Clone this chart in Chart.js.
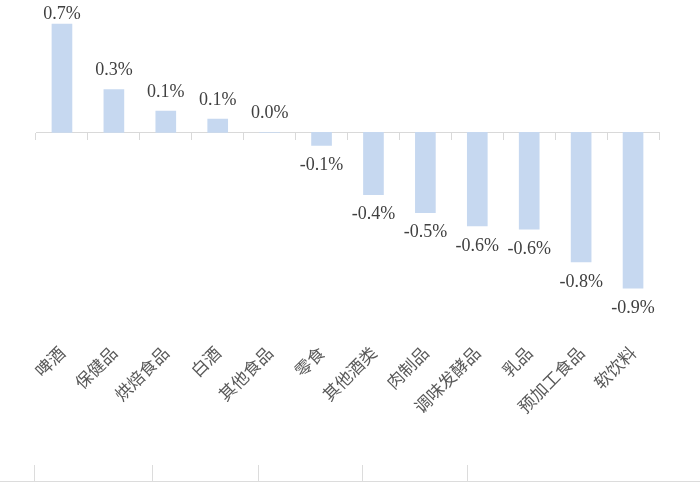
<!DOCTYPE html>
<html>
<head>
<meta charset="utf-8">
<script src="https://cdn.jsdelivr.net/npm/chart.js@4"></script>
<style>
  html, body { margin: 0; padding: 0; background: #fff; }
  #wrap { position: relative; width: 700px; height: 483px; }
  .rule { position: absolute; background: #dcdcdc; }
</style>
</head>
<body>
<div id="wrap">
  <canvas id="chart" width="700" height="483"></canvas>
  <div class="rule" style="left:0;top:481px;width:700px;height:1px"></div>
  <div class="rule" style="left:34px;top:465px;width:1px;height:17px"></div>
  <div class="rule" style="left:152px;top:465px;width:1px;height:17px"></div>
  <div class="rule" style="left:258px;top:465px;width:1px;height:17px"></div>
  <div class="rule" style="left:362px;top:465px;width:1px;height:17px"></div>
  <div class="rule" style="left:467px;top:465px;width:1px;height:17px"></div>
</div>
<script>
const categories = ['啤酒', '保健品', '烘焙食品', '白酒', '其他食品', '零食', '其他酒类', '肉制品', '调味发酵品', '乳品', '预加工食品', '软饮料'];
const values = [0.66, 0.26, 0.13, 0.08, 0.0, -0.08, -0.38, -0.49, -0.57, -0.59, -0.79, -0.95];
const valueLabels = ['0.7%', '0.3%', '0.1%', '0.1%', '0.0%', '-0.1%', '-0.4%', '-0.5%', '-0.6%', '-0.6%', '-0.8%', '-0.9%'];

const barColor = '#c6d8f0';
const lineColor = '#d9d9d9';

// value labels above / below each bar
const valueLabelPlugin = {
  id: 'valueLabels',
  afterDatasetsDraw(chart) {
    const ctx = chart.ctx;
    const meta = chart.getDatasetMeta(0);
    ctx.save();
    ctx.font = '18px "Liberation Serif", serif';
    ctx.fillStyle = '#404040';
    ctx.textAlign = 'center';
    meta.data.forEach((bar, i) => {
      if (values[i] >= 0) {
        ctx.textBaseline = 'bottom';
        ctx.fillText(valueLabels[i], bar.x, Math.max(bar.y - 10, 23));
      } else {
        ctx.textBaseline = 'top';
        ctx.fillText(valueLabels[i], bar.x, bar.y + 11);
      }
    });
    ctx.restore();
  }
};

new Chart(document.getElementById('chart'), {
  type: 'bar',
  data: {
    labels: categories,
    datasets: [{
      data: values,
      backgroundColor: barColor,
      barThickness: 20,
      xAxisID: 'x',
    }]
  },
  options: {
    responsive: false,
    animation: false,
    layout: { padding: { left: 36, right: 41, top: 1, bottom: 0 } },
    plugins: { legend: { display: false }, tooltip: { enabled: false } },
    scales: {
      x: {
        type: 'category',
        position: 'bottom',
        grid: { display: false },
        border: { display: false },
        ticks: {
          minRotation: 45,
          maxRotation: 45,
          autoSkip: false,
          padding: -3,
          color: '#595959',
          font: { family: '"Noto Sans CJK SC", sans-serif', size: 17 }
        },
        afterFit: (scale) => { scale.height = 145.5; }
      },
      x0: {
        type: 'category',
        position: { y: 0 },
        offset: true,
        grid: { offset: true, drawOnChartArea: false, drawTicks: true, tickLength: 7, color: lineColor },
        border: { display: true, color: lineColor, width: 1 },
        ticks: { display: false }
      },
      y: {
        display: false,
        min: -1.25,
        max: 0.8
      }
    }
  },
  plugins: [valueLabelPlugin]
});
</script>
</body>
</html>
